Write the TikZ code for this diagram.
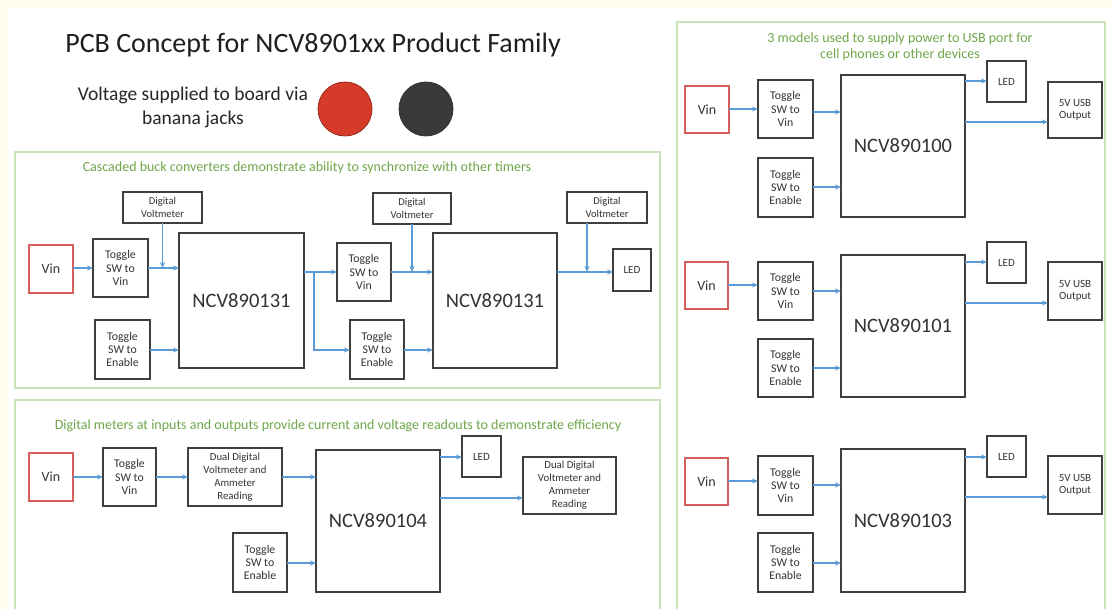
\documentclass[tikz,border=0pt]{standalone}
\usepackage{fontspec}
\setmainfont{Carlito}
\usetikzlibrary{arrows.meta}
\definecolor{cream}{HTML}{FFFDEE}
\definecolor{pgreen}{HTML}{C9E3BB}
\definecolor{tgreen}{HTML}{6FA64A}
\definecolor{ablue}{HTML}{5B9BD5}
\definecolor{bgray}{HTML}{3F3F3F}
\definecolor{tgray}{HTML}{333333}
\definecolor{vred}{HTML}{D4605E}
\definecolor{jred}{HTML}{D63B2A}
\definecolor{jdark}{HTML}{3A3A3A}
\newcommand\bx[7]{\node[#6, minimum width={#4-#2}, minimum height={#5-#3}] (#1) at ({(#2+#4)/2},{(#3+#5)/2}) {#7};}
\begin{document}
\begin{tikzpicture}[x=1pt,y=-1pt,
 blk/.style={draw=bgray, line width=1.3pt, inner sep=0pt, outer sep=0pt, align=center, text=tgray},
 vinbox/.style={blk, draw=vred, font=\fontsize{14}{16}\selectfont},
 tog/.style={blk, font=\fontsize{11.8}{13.3}\selectfont},
 meter/.style={blk, font=\fontsize{10.5}{12.3}\selectfont},
 meterb/.style={blk, font=\fontsize{10.8}{13}\selectfont},
 chip/.style={blk, font=\fontsize{20.5}{24}\selectfont},
 led/.style={blk, font=\fontsize{11}{12.5}\selectfont},
 arr/.style={draw=ablue, line width=1.2pt, -{Stealth[length=6pt,width=5pt]}},
 wire/.style={draw=ablue, line width=1.2pt},
 panel/.style={draw=pgreen, line width=1.4pt},
 ptitle/.style={text=tgreen, font=\fontsize{14}{16}\selectfont, inner sep=0pt, align=center}]
\useasboundingbox (0,0) rectangle (1112,609);
\fill[cream] (0,0) rectangle (1112,609);
\fill[white] (8,8) rectangle (1112,609);

% headings
\node[text=black!88, font=\fontsize{28}{32}\selectfont, inner sep=0pt] (title) at (313,45) {PCB Concept for NCV8901xx Product Family};
\node[text=black!85, font=\fontsize{19.5}{24.5}\selectfont, inner sep=0pt, align=center] (supply) at (193,107.5) {Voltage supplied to board via\\banana jacks};
\node[circle, fill=jred, draw=jred!70!black, line width=0.8pt, minimum size=54pt, inner sep=0pt] (jackr) at (345,109) {};
\node[circle, fill=jdark, draw=black!80, line width=0.8pt, minimum size=54pt, inner sep=0pt] (jackb) at (426,109) {};

% panels
\draw[panel] (15,152) rectangle (660,388);
\draw[panel] (15,612) -- (15,400) -- (660,400) -- (660,612);
\draw[panel] (677,612) -- (677,22) -- (1105,22) -- (1105,612);
\node[ptitle] (t1) at (307,168) {Cascaded buck converters demonstrate ability to synchronize with other timers};
\node[ptitle] (t2) at (338,426) {Digital meters at inputs and outputs provide current and voltage readouts to demonstrate efficiency};
\node[ptitle] (t3) at (900,47) {3 models used to supply power to USB port for\\cell phones or other devices};

% ---------- panel 1
\bx{vinA}{29}{245}{73}{293}{vinbox}{Vin}
\bx{togA}{93}{239}{148}{297}{tog}{Toggle\\SW to\\Vin}
\bx{dvA}{123}{192}{202}{223}{meter}{Digital\\Voltmeter}
\bx{ncvA}{179}{233}{304}{368}{chip}{NCV890131}
\bx{enA}{95}{320}{150}{379}{tog}{Toggle\\SW to\\Enable}
\bx{togB}{337}{243}{391}{301}{tog}{Toggle\\SW to\\Vin}
\bx{enB}{350}{320}{404}{379}{tog}{Toggle\\SW to\\Enable}
\bx{dvB}{373}{193}{451}{224}{meter}{Digital\\Voltmeter}
\bx{ncvB}{433}{233}{557}{368}{chip}{NCV890131}
\bx{dvC}{567}{192}{647}{223}{meter}{Digital\\Voltmeter}
\bx{ledA}{613}{249}{651}{291}{led}{LED}

\draw[arr] (vinA.east |- 0,268) -- (togA.west |- 0,268);
\draw[arr] (togA.east |- 0,268) -- (ncvA.west |- 0,268);
\draw[arr] (dvA.south) -- (dvA.south |- 0,268);
\draw[arr] (enA.east |- 0,350) -- (ncvA.west |- 0,350);
\coordinate (jA) at (314,272);
\draw[wire] (ncvA.east |- jA) -- (jA);
\draw[arr] (jA) -- (togB.west |- jA);
\draw[arr] (jA) |- (enB.west |- 0,350);
\draw[arr] (togB.east |- 0,272) -- (ncvB.west |- 0,272);
\draw[arr] (dvB.south) -- (dvB.south |- 0,272);
\draw[arr] (enB.east |- 0,350) -- (ncvB.west |- 0,350);
\draw[arr] (ncvB.east |- 0,272) -- (ledA.west |- 0,272);
\coordinate (dvCx) at (587,0);
\draw[arr] (dvC.south -| dvCx) -- (dvCx |- 0,272);

% ---------- panel 2
\bx{vinD}{29}{453}{73}{501}{vinbox}{Vin}
\bx{togD}{103}{448}{156}{506}{tog}{Toggle\\SW to\\Vin}
\bx{ddA}{188}{448}{282}{506}{meterb}{Dual Digital\\Voltmeter and\\Ammeter\\Reading}
\bx{ncvD}{316}{450}{440}{592}{chip}{NCV890104}
\bx{enD}{233}{533}{287}{592}{tog}{Toggle\\SW to\\Enable}
\bx{ledD}{462}{436}{501}{477}{led}{LED}
\bx{ddB}{523}{457}{616}{514}{meterb}{Dual Digital\\Voltmeter and\\Ammeter\\Reading}

\draw[arr] (vinD.east |- 0,477) -- (togD.west |- 0,477);
\draw[arr] (togD.east |- 0,477) -- (ddA.west |- 0,477);
\draw[arr] (ddA.east |- 0,477) -- (ncvD.west |- 0,477);
\draw[arr] (enD.east |- 0,563) -- (ncvD.west |- 0,563);
\draw[arr] (ncvD.east |- 0,457) -- (ledD.west |- 0,457);
\draw[arr] (ncvD.east |- 0,498) -- (ddB.west |- 0,498);

% ---------- panel 3, section A
\bx{vinE}{685}{86}{729}{133}{vinbox}{Vin}
\bx{togE}{758}{80}{813}{138}{tog}{Toggle\\SW to\\Vin}
\bx{enE}{758}{158}{813}{217}{tog}{Toggle\\SW to\\Enable}
\bx{ncvE}{841}{75}{965}{217}{chip}{NCV890100}
\bx{ledE}{987}{61}{1026}{102}{led}{LED}
\bx{usbE}{1048}{82}{1102}{138}{led}{5V USB\\Output}
\draw[arr] (vinE.east |- 0,109) -- (togE.west |- 0,109);
\draw[arr] (togE.east |- 0,112) -- (ncvE.west |- 0,112);
\draw[arr] (enE.east |- 0,187) -- (ncvE.west |- 0,187);
\draw[arr] (ncvE.east |- 0,81) -- (ledE.west |- 0,81);
\draw[arr] (ncvE.east |- 0,122) -- (usbE.west |- 0,122);

% section B
\bx{vinF}{685}{262}{728}{309}{vinbox}{Vin}
\bx{togF}{758}{262}{813}{320}{tog}{Toggle\\SW to\\Vin}
\bx{enF}{758}{339}{813}{397}{tog}{Toggle\\SW to\\Enable}
\bx{ncvF}{841}{255}{965}{397}{chip}{NCV890101}
\bx{ledF}{987}{242}{1026}{283}{led}{LED}
\bx{usbF}{1048}{262}{1102}{320}{led}{5V USB\\Output}
\draw[arr] (vinF.east |- 0,285) -- (togF.west |- 0,285);
\draw[arr] (togF.east |- 0,291) -- (ncvF.west |- 0,291);
\draw[arr] (enF.east |- 0,368) -- (ncvF.west |- 0,368);
\draw[arr] (ncvF.east |- 0,262) -- (ledF.west |- 0,262);
\draw[arr] (ncvF.east |- 0,303) -- (usbF.west |- 0,303);

% section C
\bx{vinG}{685}{458}{728}{505}{vinbox}{Vin}
\bx{togG}{758}{456}{813}{515}{tog}{Toggle\\SW to\\Vin}
\bx{enG}{758}{533}{813}{592}{tog}{Toggle\\SW to\\Enable}
\bx{ncvG}{841}{449}{965}{592}{chip}{NCV890103}
\bx{ledG}{987}{436}{1026}{477}{led}{LED}
\bx{usbG}{1048}{456}{1102}{514}{led}{5V USB\\Output}
\draw[arr] (vinG.east |- 0,481) -- (togG.west |- 0,481);
\draw[arr] (togG.east |- 0,485) -- (ncvG.west |- 0,485);
\draw[arr] (enG.east |- 0,563) -- (ncvG.west |- 0,563);
\draw[arr] (ncvG.east |- 0,457) -- (ledG.west |- 0,457);
\draw[arr] (ncvG.east |- 0,497) -- (usbG.west |- 0,497);
\end{tikzpicture}
\end{document}
